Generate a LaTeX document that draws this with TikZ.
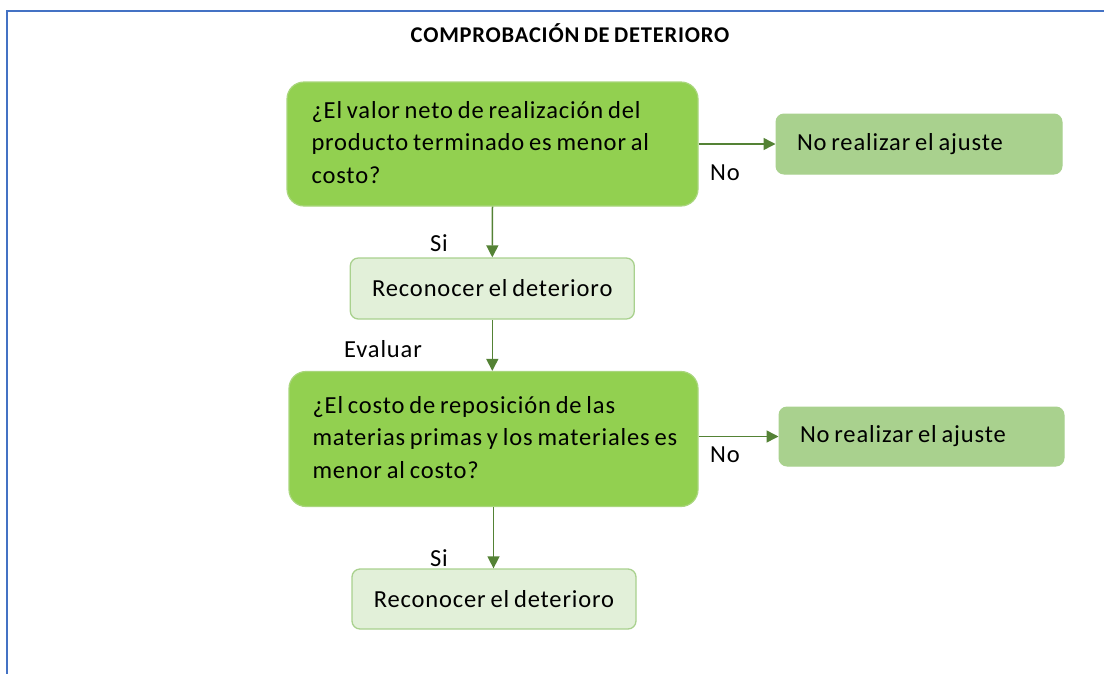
\documentclass[tikz,border=0pt]{standalone}
\usepackage{fontspec}
\setmainfont{Carlito}[LetterSpace=3.5,WordSpace=0.75]
\usetikzlibrary{arrows.meta,calc}
\definecolor{frameblue}{HTML}{4472C4}
\definecolor{darkgreen}{HTML}{92D050}
\definecolor{darkgreenborder}{HTML}{A9D67C}
\definecolor{midgreen}{HTML}{A9D18E}
\definecolor{lightgreen}{HTML}{E2F0D9}
\definecolor{arrowgreen}{HTML}{548235}
\newcommand{\qlines}[1]{\makebox[362pt][l]{\begin{tabular}{@{}l@{}}#1\end{tabular}}}
\tikzset{
  qbox/.style={rectangle, rounded corners=17pt, fill=darkgreen, draw=darkgreenborder, line width=1.2pt,
    inner sep=0pt, font=\fontsize{24.5}{32.5}\selectfont},
  nobox/.style={rectangle, rounded corners=8pt, fill=midgreen, draw=midgreen, line width=1pt,
    minimum width=286pt, minimum height=60pt, inner sep=0pt, font=\fontsize{24.5}{28}\selectfont},
  yesbox/.style={rectangle, rounded corners=8pt, fill=lightgreen, draw=midgreen, line width=1.3pt,
    minimum width=284pt, minimum height=61pt, inner sep=0pt, font=\fontsize{24.5}{28}\selectfont},
  lbl/.style={inner sep=0pt, font=\fontsize{24.5}{28}\selectfont},
  conn/.style={draw=arrowgreen, line width=1.5pt, -{Triangle[length=12pt,width=12pt]}},
}
\begin{document}
\begin{tikzpicture}[x=1pt,y=-1pt]
\useasboundingbox (0,0) rectangle (1104,673);
\draw[frameblue, line width=2.2pt] (7,680) -- (7,11) -- (1110,11);
\node[inner sep=0pt, font=\bfseries\fontsize{22.5}{26}\selectfont] (title) at (570,33) {COMPROBACIÓN DE DETERIORO};

\node[qbox, minimum width=411pt, minimum height=124pt] (q1) at (492.5,144)
  {\qlines{¿El valor neto de realización del\\producto terminado es menor al\\costo?}};
\node[nobox] (n1) at (919,144) {\makebox[244pt][l]{No realizar el ajuste}};
\node[yesbox] (r1) at (492.3,288.5) {Reconocer el deterioro};

\node[qbox, minimum width=409pt, minimum height=135pt] (q2) at (493.5,439)
  {\raisebox{1.5pt}{\qlines{¿El costo de reposición de las\\materias primas y los materiales es\\menor al costo?}}};
\node[nobox, minimum width=285pt, minimum height=59pt] (n2) at (921.5,436.5) {\makebox[243pt][l]{No realizar el ajuste}};
\node[yesbox, minimum height=60pt] (r2) at (494,599) {Reconocer el deterioro};

\draw[conn] (q1.east) -- (n1.west);
\draw[conn] (q2.east |- n2.west) -- (n2.west);
\draw[conn] (q1.south) -- (r1.north);
\draw[conn] (r1.south) -- (r1.south |- q2.north);
\draw[conn] (q2.south) -- (q2.south |- r2.north);

\node[lbl] (no1) at (725,173) {No};
\node[lbl] (no2) at (725,455) {No};
\node[lbl] (si1) at (439,243) {Si};
\node[lbl] (ev) at (383,349) {Evaluar};
\node[lbl] (si2) at (439,558) {Si};
\end{tikzpicture}
\end{document}
